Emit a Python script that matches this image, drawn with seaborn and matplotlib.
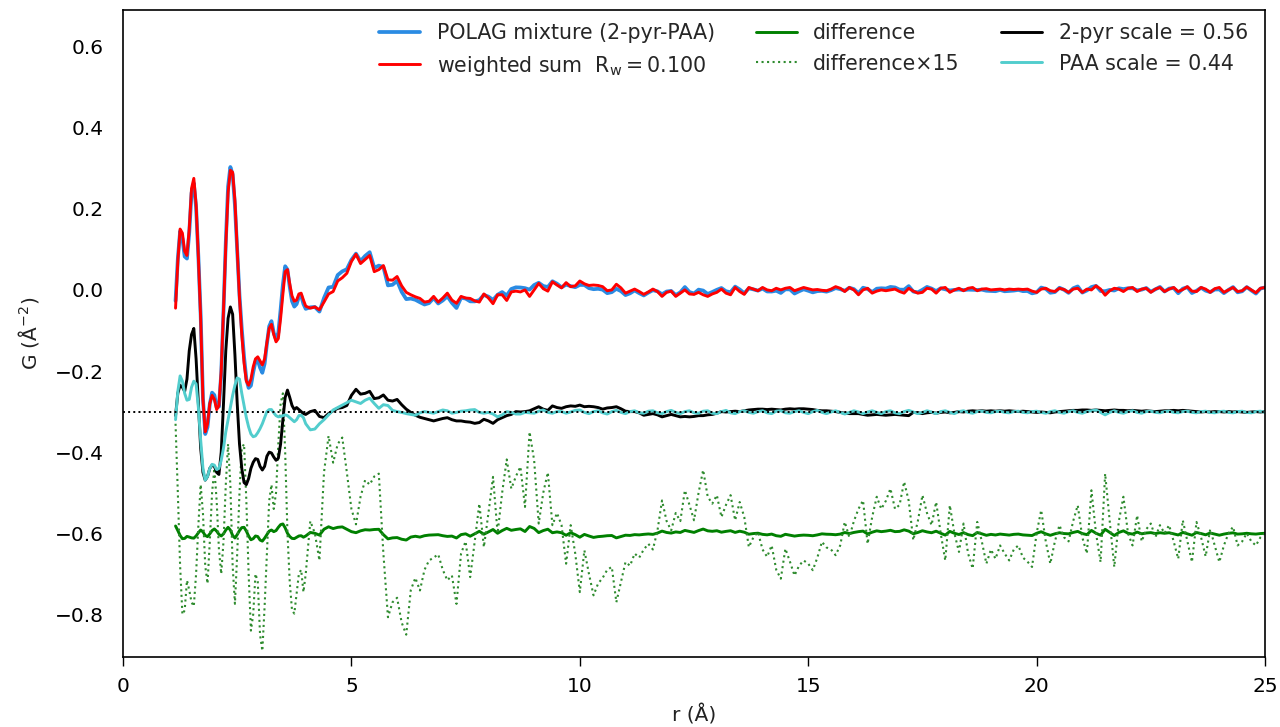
import numpy as np
import pandas as pd
import matplotlib
matplotlib.use("Agg")
import matplotlib.pyplot as plt
import seaborn as sns

# r grid (Å): 0.05 Å steps through the first shells, 0.1 Å steps from 4 to 25 Å
r = np.round(np.concatenate([np.linspace(1.15, 3.95, 57),
                             np.linspace(4.0, 25.0, 211)]), 2)

# weighted sum of the two scaled reference PDFs, G (Å^-2)
g_calc = [
    # 1.15 - 3.95
    -0.045, 0.070, 0.150, 0.140, 0.095, 0.085, 0.150, 0.250, 0.275, 0.210,
    0.080, -0.070, -0.270, -0.350, -0.330, -0.280, -0.260, -0.270, -0.295, -0.285,
    -0.200, -0.050, 0.110, 0.240, 0.295, 0.290, 0.220, 0.100, -0.020, -0.110,
    -0.180, -0.225, -0.235, -0.220, -0.190, -0.170, -0.165, -0.175, -0.185, -0.170,
    -0.130, -0.095, -0.085, -0.110, -0.128, -0.120, -0.070, -0.010, 0.045, 0.050,
    0.015, -0.015, -0.028, -0.025, -0.010, -0.008, -0.025,
    # 4.0 - 25.0
    -0.040, -0.045, -0.042, -0.049, -0.030, -0.010, -0.004, 0.022, 0.030, 0.041,
    0.070, 0.088, 0.065, 0.075, 0.085, 0.045, 0.050, 0.060, 0.025, 0.024,
    0.033, 0.010, -0.006, -0.012, -0.017, -0.021, -0.030, -0.028, -0.016, -0.030,
    -0.020, -0.008, -0.025, -0.033, -0.016, -0.020, -0.021, -0.027, -0.030, -0.010,
    -0.020, -0.034, -0.012, -0.012, -0.026, -0.005, -0.003, -0.005, 0.000, -0.016,
    0.000, 0.016, 0.003, -0.003, 0.020, 0.012, 0.005, 0.018, 0.008, 0.010,
    0.022, 0.015, 0.011, 0.012, 0.011, 0.008, -0.002, 0.000, 0.014, 0.005,
    -0.008, -0.003, 0.002, -0.004, -0.011, -0.005, 0.002, -0.004, -0.016, -0.006,
    -0.003, -0.016, -0.008, 0.000, -0.010, -0.011, -0.006, -0.012, -0.016, -0.010,
    -0.006, 0.002, -0.008, -0.012, 0.006, -0.004, -0.011, 0.006, 0.002, -0.002,
    0.006, 0.000, -0.002, 0.004, 0.000, 0.004, 0.006, -0.002, 0.002, 0.006,
    0.003, 0.000, 0.001, -0.001, -0.002, 0.002, 0.008, 0.004, -0.004, 0.006,
    0.000, -0.012, 0.000, 0.004, -0.008, -0.003, 0.000, -0.002, 0.000, 0.002,
    -0.004, -0.008, 0.004, -0.003, -0.008, -0.006, 0.004, 0.002, -0.008, 0.004,
    0.006, -0.006, 0.000, 0.004, -0.002, 0.004, 0.006, -0.002, 0.002, 0.003,
    0.000, 0.001, 0.002, 0.000, 0.002, 0.001, 0.002, 0.001, 0.002, -0.003,
    -0.006, 0.002, 0.004, -0.002, -0.004, 0.004, 0.001, -0.006, 0.002, 0.004,
    -0.006, 0.002, 0.000, 0.010, 0.002, -0.013, -0.002, 0.004, 0.002, -0.004,
    0.004, 0.006, -0.004, 0.002, 0.004, -0.006, 0.002, 0.006, -0.004, 0.002,
    0.006, -0.004, 0.001, 0.008, -0.003, -0.004, 0.006, 0.002, -0.006, 0.003,
    0.006, -0.006, 0.000, 0.006, -0.004, -0.002, 0.007, 0.000, -0.007, 0.004,
    0.006,
]

# 2-pyr reference PDF multiplied by its scale factor 0.56
g_pyr = [
    # 1.15 - 3.95
    -0.010, 0.045, 0.065, 0.060, 0.050, 0.080, 0.150, 0.190, 0.205, 0.130,
    0.020, -0.090, -0.150, -0.169, -0.160, -0.140, -0.132, -0.135, -0.150, -0.155,
    -0.100, 0.020, 0.150, 0.230, 0.258, 0.240, 0.140, 0.020, -0.080, -0.140,
    -0.175, -0.180, -0.165, -0.140, -0.125, -0.116, -0.118, -0.135, -0.144, -0.135,
    -0.110, -0.100, -0.102, -0.112, -0.120, -0.115, -0.080, -0.020, 0.035, 0.053,
    0.035, 0.015, 0.005, 0.010, 0.005, 0.000, -0.005,
    # 4.0 - 25.0
    -0.007, 0.000, 0.003, -0.012, -0.015, -0.005, 0.002, 0.008, 0.010, 0.015,
    0.040, 0.055, 0.043, 0.045, 0.050, 0.032, 0.034, 0.041, 0.028, 0.026,
    0.030, 0.017, 0.006, -0.002, -0.009, -0.014, -0.017, -0.020, -0.023, -0.020,
    -0.017, -0.015, -0.020, -0.023, -0.023, -0.025, -0.026, -0.029, -0.027, -0.019,
    -0.023, -0.029, -0.020, -0.015, -0.010, -0.007, 0.000, -0.001, 0.000, 0.002,
    0.007, 0.012, 0.006, 0.003, 0.014, 0.010, 0.008, 0.012, 0.014, 0.013,
    0.016, 0.012, 0.013, 0.012, 0.010, 0.006, 0.009, 0.010, 0.012, 0.007,
    0.001, 0.000, 0.000, -0.003, -0.009, -0.007, -0.005, -0.008, -0.013, -0.010,
    -0.007, -0.010, -0.013, -0.012, -0.013, -0.012, -0.010, -0.010, -0.008, -0.007,
    -0.004, 0.000, -0.001, 0.000, 0.001, 0.000, 0.002, 0.004, 0.005, 0.006,
    0.006, 0.005, 0.006, 0.005, 0.004, 0.006, 0.007, 0.006, 0.007, 0.007,
    0.006, 0.005, 0.003, 0.002, 0.002, 0.001, 0.000, -0.002, -0.004, -0.005,
    -0.005, -0.005, -0.007, -0.009, -0.008, -0.007, -0.008, -0.009, -0.008, -0.007,
    -0.008, -0.009, -0.010, -0.002, -0.003, -0.005, -0.003, -0.002, -0.004, -0.002,
    -0.001, -0.003, -0.002, 0.000, -0.001, 0.001, 0.002, 0.001, 0.002, 0.001,
    0.002, 0.001, 0.002, 0.001, 0.002, 0.001, 0.000, 0.001, 0.000, -0.001,
    -0.002, -0.001, -0.002, -0.003, -0.001, 0.000, 0.001, 0.002, 0.003, 0.003,
    0.004, 0.004, 0.003, 0.004, 0.003, 0.002, 0.003, 0.004, 0.003, 0.003,
    0.002, 0.003, 0.002, 0.001, 0.002, 0.001, 0.000, 0.001, 0.002, 0.002,
    0.003, 0.002, 0.003, 0.002, 0.001, 0.000, -0.001, 0.000, -0.001, 0.000,
    0.000, -0.001, 0.000, -0.001, 0.000, -0.001, -0.002, -0.001, 0.000, -0.001,
    0.000,
]

# PAA reference PDF multiplied by its scale factor 0.44
g_paa = [
    # 1.15 - 3.95
    -0.020, 0.050, 0.088, 0.075, 0.045, 0.028, 0.030, 0.060, 0.075, 0.068,
    0.010, -0.070, -0.140, -0.169, -0.160, -0.140, -0.130, -0.132, -0.143, -0.140,
    -0.120, -0.090, -0.050, -0.020, 0.010, 0.040, 0.065, 0.083, 0.080, 0.045,
    0.015, -0.015, -0.038, -0.055, -0.062, -0.060, -0.052, -0.042, -0.030, -0.015,
    0.000, 0.005, 0.005, -0.003, -0.010, -0.013, -0.012, -0.010, -0.008, -0.010,
    -0.015, -0.020, -0.025, -0.020, -0.010, -0.009, -0.015,
    # 4.0 - 25.0
    -0.030, -0.045, -0.043, -0.030, -0.020, -0.008, 0.004, 0.010, 0.016, 0.022,
    0.028, 0.024, 0.020, 0.028, 0.033, 0.020, 0.008, 0.017, 0.015, 0.003,
    0.000, -0.002, -0.005, -0.007, -0.009, -0.003, 0.000, -0.002, -0.004, 0.000,
    0.004, 0.002, -0.004, -0.002, 0.001, 0.002, 0.004, 0.005, -0.002, -0.004,
    -0.002, -0.006, -0.013, -0.008, 0.000, -0.002, -0.006, -0.006, -0.002, -0.003,
    -0.004, 0.001, 0.004, -0.002, -0.004, 0.000, 0.000, -0.004, -0.001, 0.003,
    0.004, -0.002, -0.005, 0.000, 0.002, -0.003, -0.006, 0.000, 0.003, -0.002,
    -0.005, 0.000, 0.002, -0.003, -0.004, 0.001, 0.002, -0.003, -0.005, 0.000,
    0.003, -0.002, -0.005, 0.000, 0.002, -0.003, -0.004, 0.001, 0.002, -0.004,
    -0.005, 0.000, 0.003, -0.003, -0.005, 0.000, 0.002, -0.002, -0.004, 0.000,
    0.002, -0.003, -0.005, 0.001, 0.002, -0.003, -0.004, 0.000, 0.002, -0.002,
    -0.005, 0.000, 0.003, -0.002, -0.005, -0.001, 0.002, -0.002, -0.006, -0.002,
    0.002, -0.001, -0.005, -0.001, 0.002, -0.002, -0.005, 0.000, 0.002, -0.003,
    -0.005, 0.000, 0.003, -0.001, -0.005, -0.002, 0.002, -0.001, -0.005, 0.000,
    0.002, -0.002, -0.005, 0.000, 0.002, -0.002, -0.004, 0.000, 0.001, -0.002,
    -0.003, 0.000, 0.001, -0.002, -0.003, 0.000, 0.001, -0.002, -0.003, 0.000,
    0.001, -0.002, -0.004, 0.000, 0.002, -0.002, -0.004, 0.000, 0.002, -0.002,
    -0.004, 0.000, 0.002, 0.004, -0.002, -0.008, -0.002, 0.002, -0.002, -0.004,
    0.000, 0.002, -0.002, -0.004, 0.000, 0.001, -0.002, -0.003, 0.000, 0.001,
    -0.002, -0.003, 0.000, 0.001, -0.002, -0.003, 0.000, 0.001, -0.002, -0.003,
    0.000, 0.001, -0.002, -0.003, 0.000, 0.001, -0.002, -0.003, 0.000, 0.001,
    -0.002,
]

# difference (measured - weighted sum), multiplied by 15
diff_x15 = [
    # 1.15 - 3.95
    0.270, 0.100, -0.080, -0.200, -0.190, -0.116, -0.140, -0.170, -0.180, -0.100,
    0.020, 0.120, 0.050, -0.080, -0.124, -0.020, 0.100, 0.160, 0.080, -0.040,
    -0.100, -0.020, 0.120, 0.220, 0.120, -0.080, -0.174, -0.050, 0.100, 0.210,
    0.220, 0.080, -0.100, -0.240, -0.200, -0.100, -0.120, -0.250, -0.290, -0.180,
    -0.050, 0.080, 0.120, 0.060, 0.100, 0.220, 0.320, 0.345, 0.200, 0.000,
    -0.120, -0.190, -0.198, -0.150, -0.100, -0.090, -0.145,
    # 4.0 - 25.0
    -0.100, 0.030, 0.000, -0.067, 0.150, 0.240, 0.174, 0.220, 0.236, 0.150,
    0.060, 0.022, 0.090, 0.131, 0.120, 0.140, 0.147, -0.050, -0.207, -0.170,
    -0.159, -0.220, -0.250, -0.140, -0.110, -0.141, -0.090, -0.067, -0.060, -0.052,
    -0.090, -0.116, -0.104, -0.174, -0.050, -0.020, -0.108, -0.020, 0.073, -0.034,
    0.050, 0.139, 0.000, 0.100, 0.182, 0.110, 0.140, 0.164, 0.065, 0.250,
    0.180, 0.024, 0.100, 0.150, 0.020, 0.050, 0.020, -0.075, 0.020, -0.050,
    -0.145, -0.042, -0.100, -0.153, -0.124, -0.110, -0.090, -0.083, -0.170, -0.120,
    -0.071, -0.080, -0.050, -0.060, -0.040, -0.026, -0.040, 0.007, 0.081, 0.030,
    0.007, 0.050, 0.030, 0.106, 0.070, 0.032, 0.100, 0.156, 0.090, 0.073,
    0.094, 0.040, 0.070, 0.094, 0.032, 0.077, 0.040, -0.034, -0.010, 0.003,
    -0.040, -0.058, -0.030, -0.090, -0.112, -0.038, -0.070, -0.104, -0.080, -0.067,
    -0.075, -0.091, -0.060, -0.021, -0.035, -0.040, -0.054, -0.030, 0.028, -0.010,
    0.030, 0.060, 0.081, -0.026, 0.040, 0.090, 0.060, 0.080, 0.110, 0.060,
    0.070, 0.127, 0.080, -0.017, 0.030, 0.094, 0.050, 0.020, 0.077, 0.000,
    -0.067, 0.069, 0.000, -0.046, 0.024, -0.050, -0.087, 0.028, -0.020, -0.075,
    -0.040, -0.063, -0.030, -0.050, -0.067, -0.040, -0.030, -0.060, -0.070, -0.083,
    0.000, 0.057, -0.020, -0.075, -0.020, 0.020, -0.010, -0.020, 0.030, 0.069,
    -0.010, -0.050, 0.106, 0.000, -0.071, 0.147, 0.030, -0.083, 0.030, 0.090,
    0.000, -0.030, 0.044, -0.020, 0.010, 0.024, -0.010, 0.020, 0.000, 0.020,
    -0.020, -0.063, 0.032, -0.020, -0.071, 0.028, -0.010, -0.057, 0.010, -0.030,
    -0.071, -0.030, 0.000, 0.016, -0.030, -0.020, 0.000, -0.020, -0.030, -0.010,
    0.000,
]

labels = ["POLAG mixture (2-pyr-PAA)",
          r"weighted sum  $\mathregular{R_w = 0.100}$",
          "difference",
          "difference×15",
          "2-pyr scale = 0.56",
          "PAA scale = 0.44"]

component_offset = -0.3
diff_offset = -0.6

calc = np.array(g_calc)
diff = np.array(diff_x15) / 15.0
df = pd.DataFrame({
    "r": r,
    "obs": calc + diff,
    "calc": calc,
    "diff": diff_offset + diff,
    "diff15": diff_offset + np.array(diff_x15),
    "pyr": component_offset + np.array(g_pyr),
    "paa": component_offset + np.array(g_paa),
})

sns.set_theme(style="white")
plt.rcParams.update({
    "font.family": ["DejaVu Sans"],
    "mathtext.default": "regular",
    "axes.edgecolor": "black",
    "axes.linewidth": 1.2,
    "xtick.bottom": True,
    "ytick.left": True,
    "xtick.major.size": 6.5,
    "xtick.major.pad": 8,
    "ytick.major.size": 0,
    "ytick.major.pad": 14,
    "xtick.major.width": 1.0,
    "xtick.color": "black",
    "ytick.color": "black",
    "axes.labelcolor": "#222222",
})

fig = plt.figure(figsize=(12.8, 7.27), dpi=100)
ax = fig.add_axes([0.0961, 0.0963, 0.8922, 0.8899])

styles = [
    ("obs", "#2a8be3", 2.7, "-"),
    ("calc", "#ff0000", 2.1, "-"),
    ("diff", "#008000", 2.1, "-"),
    ("diff15", "#2e8b2e", 1.5, ":"),
    ("pyr", "#000000", 2.1, "-"),
    ("paa", "#52cdcd", 2.1, "-"),
]
for (col, color, lw, ls), lab in zip(styles, labels):
    sns.lineplot(data=df, x="r", y=col, ax=ax, color=color, linewidth=lw,
                 linestyle=ls, label=lab, estimator=None, sort=False)

ax.axhline(component_offset, color="black", linestyle=":", linewidth=1.4)

ax.set_xlim(0, 25)
ax.set_ylim(-0.905, 0.69)
ax.set_xticks([0, 5, 10, 15, 20, 25])
ax.set_yticks([-0.8, -0.6, -0.4, -0.2, 0.0, 0.2, 0.4, 0.6])
ax.tick_params(axis="both", labelsize=14.5, direction="out")
ax.set_xlabel("r (Å)", fontsize=14.5, labelpad=6)
ax.set_ylabel(r"G (Å$^{-2}$)", fontsize=14.5, labelpad=10)
for s in ax.spines.values():
    s.set_visible(True)
    s.set_color("black")

ax.legend(loc="upper right", ncol=3, frameon=False, fontsize=14.8,
          bbox_to_anchor=(1.001, 1.008))

fig.savefig("out.png", dpi=100)
